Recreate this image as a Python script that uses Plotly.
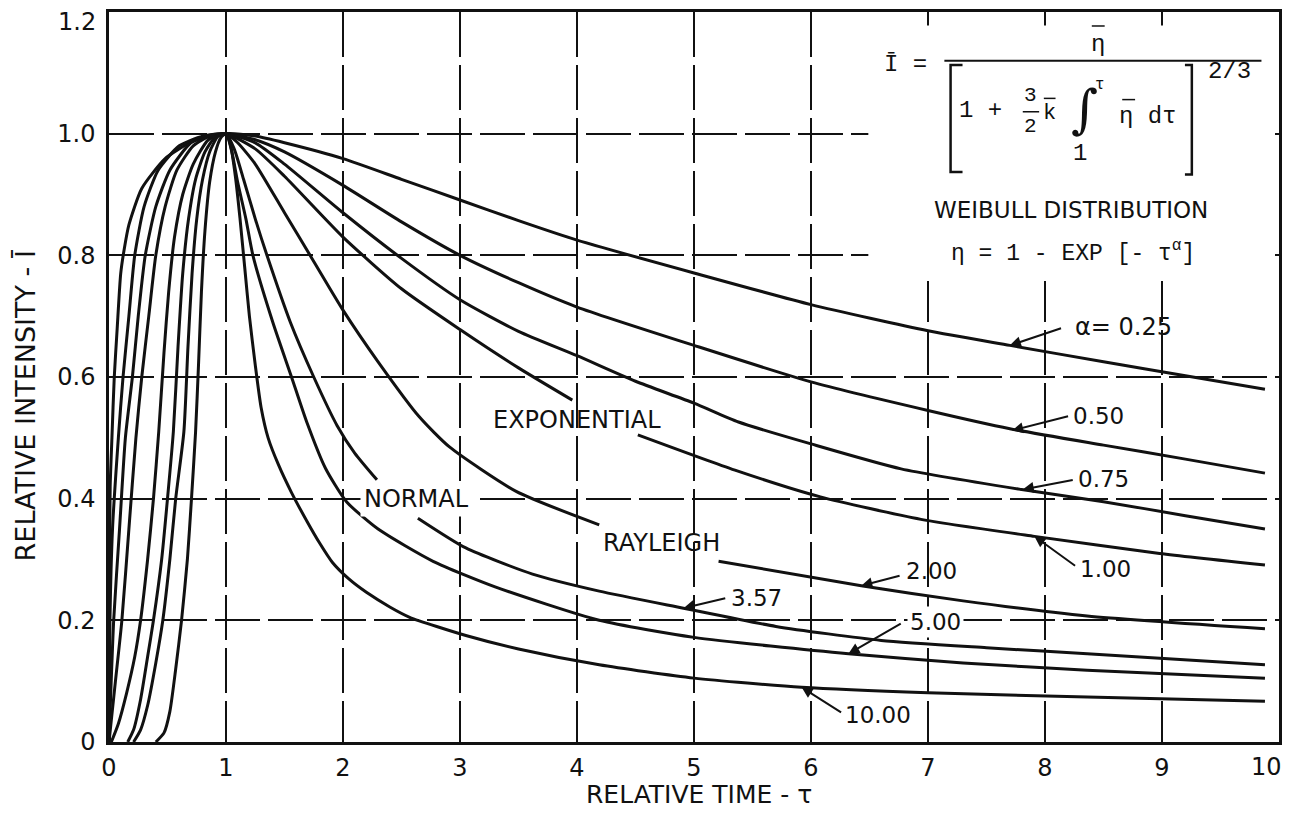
import plotly.graph_objects as go

# ---------------- data ----------------
labels = ["0.25", "0.50", "0.75", "1.00", "2.00", "3.57", "5.00", "10.00"]

tau_025 = [0, 0.003, 0.01, 0.025, 0.045, 0.07, 0.1, 0.13, 0.17, 0.28, 0.48, 0.71, 1.0,
           1.25, 1.5, 2, 2.5, 3, 3.5, 4, 5, 6, 7, 7.7, 8.5, 9.2, 9.88]
I_025 = [0, 0.25, 0.42, 0.5, 0.6, 0.68, 0.77, 0.81, 0.85, 0.91, 0.959, 0.987, 1.0,
         0.996, 0.985, 0.959, 0.925, 0.891, 0.857, 0.825, 0.771, 0.719, 0.676, 0.652, 0.625, 0.602, 0.58]

tau_050 = [0, 0.008, 0.03, 0.08, 0.12, 0.17, 0.22, 0.3, 0.42, 0.6, 0.8, 1.0,
           1.25, 1.5, 2, 2.5, 3, 3.5, 4, 5, 6, 7, 7.7, 8.5, 9.2, 9.88]
I_050 = [0, 0.2, 0.35, 0.5, 0.6, 0.7, 0.8, 0.88, 0.94, 0.98, 0.996, 1.0,
         0.99, 0.97, 0.915, 0.855, 0.80, 0.755, 0.715, 0.652, 0.592, 0.545, 0.515, 0.488, 0.465, 0.442]

tau_075 = [0, 0.04, 0.09, 0.14, 0.2, 0.25, 0.31, 0.4, 0.52, 0.7, 0.85, 1.0,
           1.25, 1.5, 2, 2.5, 3, 3.5, 4, 4.5, 5, 5.38, 6, 6.77, 7.8, 8.5, 9.2, 9.88]
I_075 = [0, 0.2, 0.35, 0.5, 0.6, 0.7, 0.8, 0.88, 0.94, 0.985, 0.997, 1.0,
         0.985, 0.95, 0.87, 0.795, 0.727, 0.675, 0.635, 0.593, 0.557, 0.526, 0.49, 0.449, 0.415, 0.395, 0.372, 0.35]

tau_100 = [0, 0.055, 0.11, 0.17, 0.23, 0.28, 0.34, 0.40, 0.48, 0.58, 0.72, 0.86, 1.0,
           1.25, 1.5, 2, 2.5, 3, 3.5, 3.96, None, 4.52, 5.35, 6.08, 6.94, 7.91, 8.98, 9.88]
I_100 = [0, 0.1, 0.2, 0.35, 0.5, 0.6, 0.7, 0.8, 0.88, 0.94, 0.98, 0.996, 1.0,
         0.975, 0.93, 0.83, 0.745, 0.678, 0.615, 0.562, None, 0.505, 0.447, 0.403, 0.366, 0.338, 0.31, 0.291]

tau_200 = [0.02, 0.08, 0.15, 0.22, 0.27, 0.33, 0.38, 0.425, 0.47, 0.51, 0.56, 0.63, 0.72, 0.85, 1.0,
           1.1, 1.25, 1.5, 1.75, 2, 2.3, 2.65, 2.91, 3.48, 4.19, None, 5.21, 6.43, 7.3, 8.36, 9.88]
I_200 = [0, 0.03, 0.08, 0.14, 0.2, 0.3, 0.4, 0.51, 0.64, 0.74, 0.83, 0.9, 0.95, 0.99, 1.0,
         0.985, 0.95, 0.87, 0.79, 0.71, 0.625, 0.535, 0.485, 0.412, 0.357, None, 0.297, 0.257, 0.232, 0.207, 0.186]

tau_357 = [0.16, 0.21, 0.27, 0.33, 0.38, 0.45, 0.50, 0.55, 0.59, 0.63, 0.68, 0.74, 0.82, 0.91, 1.0,
           1.07, 1.15, 1.25, 1.35, 1.55, 1.75, 1.95, 2.1, 2.29, None, 2.64, 3.05, 3.62, 4.19, 4.91,
           5.7, 6.6, 7.5, 8.36, 9.88]
I_357 = [0, 0.02, 0.07, 0.14, 0.2, 0.3, 0.4, 0.51, 0.65, 0.77, 0.86, 0.925, 0.97, 0.995, 1.0,
         0.975, 0.925, 0.86, 0.8, 0.69, 0.6, 0.52, 0.475, 0.431, None, 0.368, 0.319, 0.276, 0.248, 0.22,
         0.19, 0.167, 0.155, 0.145, 0.127]

tau_500 = [0.21, 0.27, 0.33, 0.40, 0.46, 0.52, 0.57, 0.64, 0.675, 0.71, 0.75, 0.8, 0.86, 0.93, 1.0,
           1.05, 1.1, 1.17, 1.23, 1.4, 1.56, 1.69, 1.85, 2.03, 2.3, 2.77, 3.3, 4.19, 5.0, 6.32,
           7.3, 8.36, 9.88]
I_500 = [0, 0.02, 0.06, 0.13, 0.2, 0.3, 0.4, 0.51, 0.65, 0.77, 0.86, 0.925, 0.97, 0.995, 1.0,
         0.97, 0.92, 0.86, 0.8, 0.69, 0.6, 0.526, 0.45, 0.395, 0.35, 0.297, 0.255, 0.2, 0.172, 0.145,
         0.13, 0.118, 0.105]

tau_1000 = [0.40, 0.47, 0.52, 0.57, 0.62, 0.67, 0.705, 0.74, 0.765, 0.79, 0.82, 0.86, 0.91, 0.955, 1.0,
            1.04, 1.08, 1.12, 1.16, 1.2, 1.25, 1.3, 1.36, 1.45, 1.56, 1.7, 1.8, 1.91, 2.05, 2.2,
            2.4, 2.57, 3.05, 3.5, 4.19, 5.0, 5.92, 7.0, 8.36, 9.88]
I_1000 = [0, 0.015, 0.05, 0.12, 0.2, 0.3, 0.4, 0.51, 0.62, 0.74, 0.84, 0.92, 0.97, 0.993, 1.0,
          0.98, 0.93, 0.86, 0.78, 0.7, 0.62, 0.55, 0.50, 0.455, 0.41, 0.36, 0.327, 0.295, 0.268, 0.246,
          0.222, 0.205, 0.175, 0.153, 0.127, 0.105, 0.09, 0.081, 0.074, 0.067]

x_ticks = [0, 1, 2, 3, 4, 5, 6, 7, 8, 9]
x_ticktext = ["0", "1", "2", "3", "4", "5", "6", "7", "8", "9"]
y_ticks = [0, 0.2, 0.4, 0.6, 0.8, 1.0]
y_ticktext = ["0", "0.2", "0.4", "0.6", "0.8", "1.0"]
x_grid_extra = [10]
y_grid_extra = [1.2]

# curve labels: text, label position, arrow tail, arrow tip
label_text = ["α= 0.25", "0.50", "0.75", "1.00", "2.00", "3.57", "5.00", "10.00"]
label_pos = [(8.67, 0.683), (8.46, 0.536), (8.5, 0.433), (8.52, 0.284),
             (7.03, 0.281), (5.53, 0.237), (7.06, 0.198), (6.57, 0.044)]
arrow_tail = [(8.15, 0.681), (8.21, 0.536), (8.25, 0.431), (8.27, 0.288),
              (6.77, 0.274), (5.28, 0.237), (6.78, 0.196), (6.27, 0.047)]
arrow_tip = [(7.70, 0.652), (7.72, 0.512), (7.81, 0.415), (7.91, 0.338),
             (6.43, 0.257), (4.91, 0.22), (6.32, 0.145), (5.92, 0.09)]

dist_text = ["EXPONENTIAL", "NORMAL", "RAYLEIGH"]
dist_pos = [(4.0, 0.53), (2.63, 0.40), (4.72, 0.327)]

# ---------------- figure ----------------
SANS = "DejaVu Sans"
MONO = "Liberation Mono"
BLACK = "#111111"

fig = go.Figure()
curves = [(tau_025, I_025), (tau_050, I_050), (tau_075, I_075), (tau_100, I_100),
          (tau_200, I_200), (tau_357, I_357), (tau_500, I_500), (tau_1000, I_1000)]
for (tx, iy), name in zip(curves, labels):
    fig.add_trace(go.Scatter(x=tx, y=iy, mode="lines", name=name,
                             line=dict(color=BLACK, width=3, shape="spline", smoothing=0.6),
                             connectgaps=False, hoverinfo="skip"))

annotations = []
for t, (lx, ly) in zip(label_text, label_pos):
    annotations.append(dict(x=lx, y=ly, xref="x", yref="y", text=t, showarrow=False,
                            font=dict(family=SANS, size=24 if t.startswith("α") else 23, color=BLACK),
                            bgcolor="white" if t == "5.00" else None, borderpad=2))
for (ax_, ay_), (tx_, ty_) in zip(arrow_tail, arrow_tip):
    annotations.append(dict(x=tx_, y=ty_, ax=ax_, ay=ay_, xref="x", yref="y",
                            axref="x", ayref="y", text="", showarrow=True,
                            arrowhead=2, arrowsize=1.1, arrowwidth=2, arrowcolor=BLACK,
                            standoff=0, startstandoff=0))
for t, (lx, ly) in zip(dist_text, dist_pos):
    annotations.append(dict(x=lx, y=ly, xref="x", yref="y", text=t, showarrow=False,
                            font=dict(family=SANS, size=24, color=BLACK),
                            bgcolor="white" if t == "NORMAL" else None, borderpad=3))

# formula block
formula_items = [
    ("Ī =", 6.81, 1.113, MONO, 24),
    ("η", 8.45, 1.146, MONO, 24),
    ("1 +", 7.45, 1.038, MONO, 24),
    ("3", 7.875, 1.062, MONO, 21),
    ("2", 7.875, 1.011, MONO, 21),
    ("k", 8.04, 1.033, MONO, 22),
    ("∫", 8.34, 1.040, "DejaVu Serif", 52),
    ("τ", 8.47, 1.080, MONO, 16),
    ("η dτ", 8.88, 1.028, MONO, 24),
    ("1", 8.30, 0.968, MONO, 24),
    ("2/3", 9.58, 1.102, MONO, 24),
    ("η = 1 - EXP [- τ<sup>α</sup>]", 8.24, 0.805, MONO, 23),
]
for t, fx, fy, fam, sz in formula_items:
    annotations.append(dict(x=fx, y=fy, xref="x", yref="y", text=t, showarrow=False,
                            font=dict(family=fam, size=sz, color=BLACK)))
annotations.append(dict(x=8.22, y=0.874, xref="x", yref="y", text="WEIBULL DISTRIBUTION",
                        showarrow=False, font=dict(family=SANS, size=23, color=BLACK)))

# end tick labels (shifted inward like the reference)
annotations.append(dict(x=0, y=y_grid_extra[0], xref="paper", yref="y", text="1.2",
                        xanchor="right", yanchor="middle", xshift=-11, yshift=-10,
                        showarrow=False, font=dict(family=SANS, size=24, color=BLACK)))
annotations.append(dict(x=x_grid_extra[0], y=0, xref="x", yref="paper", text="10",
                        xanchor="center", yanchor="top", xshift=-13, yshift=-9,
                        showarrow=False, font=dict(family=SANS, size=24, color=BLACK)))

# axis titles
annotations.append(dict(x=0.504, y=-0.0723, xref="paper", yref="paper", text="RELATIVE TIME - τ",
                        xanchor="center", yanchor="middle",
                        showarrow=False, font=dict(family=SANS, size=25, color=BLACK)))
annotations.append(dict(x=-0.0716, y=0.46, xref="paper", yref="paper",
                        text="RELATIVE INTENSITY - Ī", textangle=-90,
                        xanchor="center", yanchor="middle",
                        showarrow=False, font=dict(family=SANS, size=27, color=BLACK)))

def hline(x0, x1, y, w=2):
    return dict(type="line", xref="x", yref="y", x0=x0, x1=x1, y0=y, y1=y,
                line=dict(color=BLACK, width=w))

shapes = [
    # white panel behind the formula (covers grid, under curves)
    dict(type="rect", xref="x", yref="y", x0=6.49, x1=9.96, y0=0.758, y1=1.178,
         fillcolor="white", line=dict(width=0), layer="between"),
    hline(7.14, 9.85, 1.120),          # fraction bar
    hline(7.81, 7.95, 1.036, 1.5),     # 3/2 bar
    hline(8.40, 8.51, 1.177, 1.5),     # bar over numerator eta
    hline(7.99, 8.09, 1.058, 1.5),     # bar over k
    hline(8.66, 8.77, 1.056, 1.5),     # bar over integrand eta
    dict(type="path", xref="x", yref="y",
         path="M 7.295 1.113 L 7.193 1.113 L 7.193 0.937 L 7.295 0.937",
         line=dict(color=BLACK, width=2.5)),
    dict(type="path", xref="x", yref="y",
         path="M 9.196 1.113 L 9.255 1.113 L 9.255 0.933 L 9.196 0.933",
         line=dict(color=BLACK, width=2.5)),
]

axis_common = dict(showgrid=True, gridcolor=BLACK, gridwidth=1.5, griddash="45px,8px",
                   zeroline=False, showline=True, linecolor=BLACK, mirror=True,
                   ticks="", ticklabeloverflow="allow",
                   tickfont=dict(family=SANS, size=24, color=BLACK))

fig.update_layout(
    width=1275, height=800,
    margin=dict(l=101, r=1, t=1, b=66),
    paper_bgcolor="white", plot_bgcolor="white",
    showlegend=False,
    xaxis=dict(range=[0, 10], tickvals=x_ticks, ticktext=x_ticktext, linewidth=2.5,
               ticklabelstandoff=2, **axis_common),
    yaxis=dict(range=[0, 1.2], tickvals=y_ticks, ticktext=y_ticktext, linewidth=2.5,
               ticklabelstandoff=6, **axis_common),
    annotations=annotations,
    shapes=shapes,
)

fig.write_html("out.html")
